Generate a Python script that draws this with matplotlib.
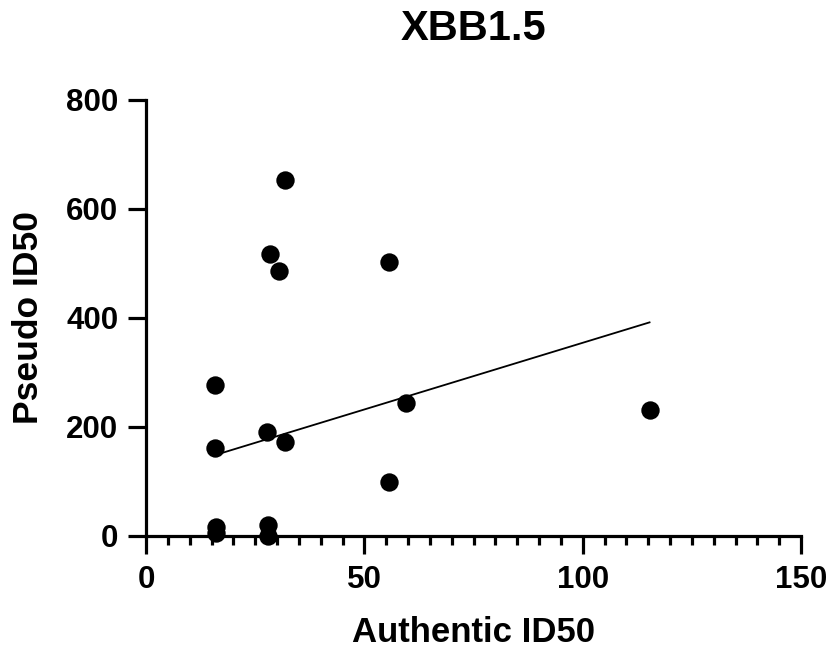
import matplotlib.pyplot as plt
import numpy as np
from matplotlib.ticker import MultipleLocator

plt.rcParams['font.family'] = ['Liberation Sans', 'DejaVu Sans']
plt.rcParams['font.weight'] = 'bold'

# Authentic vs pseudo ID50 values
authentic = [15.8, 15.8, 16.0, 16.0, 27.9, 27.9, 27.7, 28.4, 30.4, 31.8, 31.8, 55.6, 55.6, 59.5, 115.3]
pseudo = [277, 161, 16, 5, 20, 0, 191, 517, 486, 653, 172, 503, 99, 244, 231]

# linear fit as drawn in the figure (slope, intercept)
fit_slope = 2.447
fit_intercept = 109.8

x = np.array(authentic)
y = np.array(pseudo)

fig = plt.figure(figsize=(8.31, 6.5), dpi=100)
ax = fig.add_axes([0.1757, 0.1754, 0.7883, 0.6708])

ax.scatter(x, y, s=175, color='black', zorder=3, clip_on=False, linewidths=0)

xseq = np.linspace(x.min(), x.max(), 2)
ax.plot(xseq, fit_intercept + fit_slope * xseq, color='black', lw=1.3)

ax.set_xlim(0, 150)
ax.set_ylim(0, 800)
ax.xaxis.set_major_locator(MultipleLocator(50))
ax.xaxis.set_minor_locator(MultipleLocator(5))
ax.yaxis.set_major_locator(MultipleLocator(200))

for s in ['top', 'right']:
    ax.spines[s].set_visible(False)
for s in ['left', 'bottom']:
    ax.spines[s].set_linewidth(2.3)

ax.tick_params(which='major', length=13, width=2.3, labelsize=22.5)
ax.tick_params(axis='x', which='major', pad=8)
ax.tick_params(axis='y', which='major', pad=7)
ax.tick_params(which='minor', length=6.5, width=2.3)
for lab in ax.get_xticklabels() + ax.get_yticklabels():
    lab.set_fontweight('bold')

ax.set_xlabel('Authentic ID50', fontsize=25, fontweight='bold', labelpad=15)
ax.set_ylabel('Pseudo ID50', fontsize=25.5, fontweight='bold', labelpad=15)
ax.set_title('XBB1.5', fontsize=30, fontweight='bold', pad=43)

fig.savefig('out.png', dpi=100)
